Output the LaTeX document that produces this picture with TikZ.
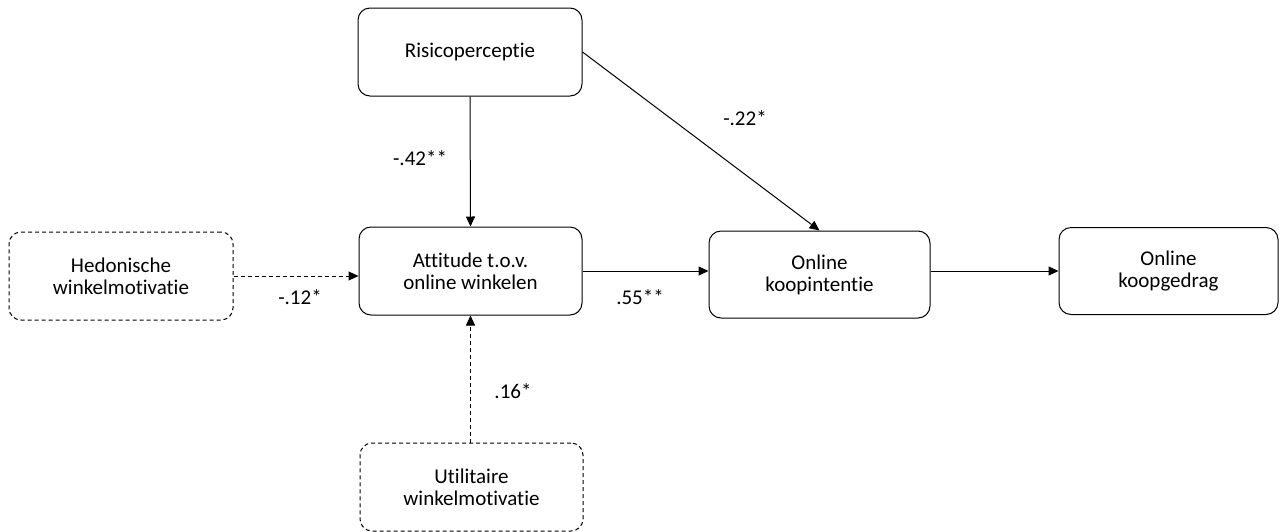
\documentclass[tikz,border=0pt]{standalone}
\usepackage{fontspec}
\setmainfont{Carlito}[Ligatures=NoCommon]
\usetikzlibrary{arrows.meta}
\begin{document}
\begin{tikzpicture}[x=1pt,y=-1pt,
  box/.style={draw, line width=1pt, rounded corners=12pt, align=center,
    inner sep=0pt, font=\fontsize{21}{22}\selectfont},
  dashbox/.style={box, dash pattern=on 4pt off 3pt},
  link/.style={line width=1pt, -{Triangle[length=10pt,width=9pt]}},
  dashlink/.style={link, dash pattern=on 4pt off 3pt},
  coef/.style={font=\fontsize{21}{22}\selectfont, inner sep=0pt}]
\useasboundingbox (0,0) rectangle (1280,531);

% constructs
\node[box, minimum width=224pt, minimum height=88pt] (risk) at (470,52) {Risicoperceptie};
\node[box, minimum width=223pt, minimum height=88pt] (att) at (470.5,271) {Attitude t.o.v.\\online winkelen};
\node[dashbox, minimum width=224pt, minimum height=88pt] (hed) at (121,276) {Hedonische\\winkelmotivatie};
\node[dashbox, minimum width=223pt, minimum height=88pt] (util) at (471.5,487) {Utilitaire\\winkelmotivatie};
\node[box, minimum width=221pt, minimum height=87pt] (kint) at (819.5,274.5) {Online\\koopintentie};
\node[box, minimum width=219pt, minimum height=87pt] (kged) at (1168.5,271) {Online\\koopgedrag};

% paths
\draw[link] (risk.south) -- (att.north);
\draw[link] (risk.east) -- (kint.north);
\draw[dashlink] (hed.east) -- (att.west |- hed.east);
\draw[dashlink] (util.north -| att.south) -- (att.south);
\draw[link] (att.east) -- (kint.west |- att.east);
\draw[link] (kint.east |- kged.west) -- (kged.west);

% path coefficients
\node[coef] (c1) at (420,158) {-.42**};
\node[coef] (c2) at (300,297) {-.12*};
\node[coef] (c3) at (640,297) {.55**};
\node[coef] (c4) at (745,118) {-.22*};
\node[coef] (c5) at (513,391) {.16*};
\end{tikzpicture}
\end{document}
